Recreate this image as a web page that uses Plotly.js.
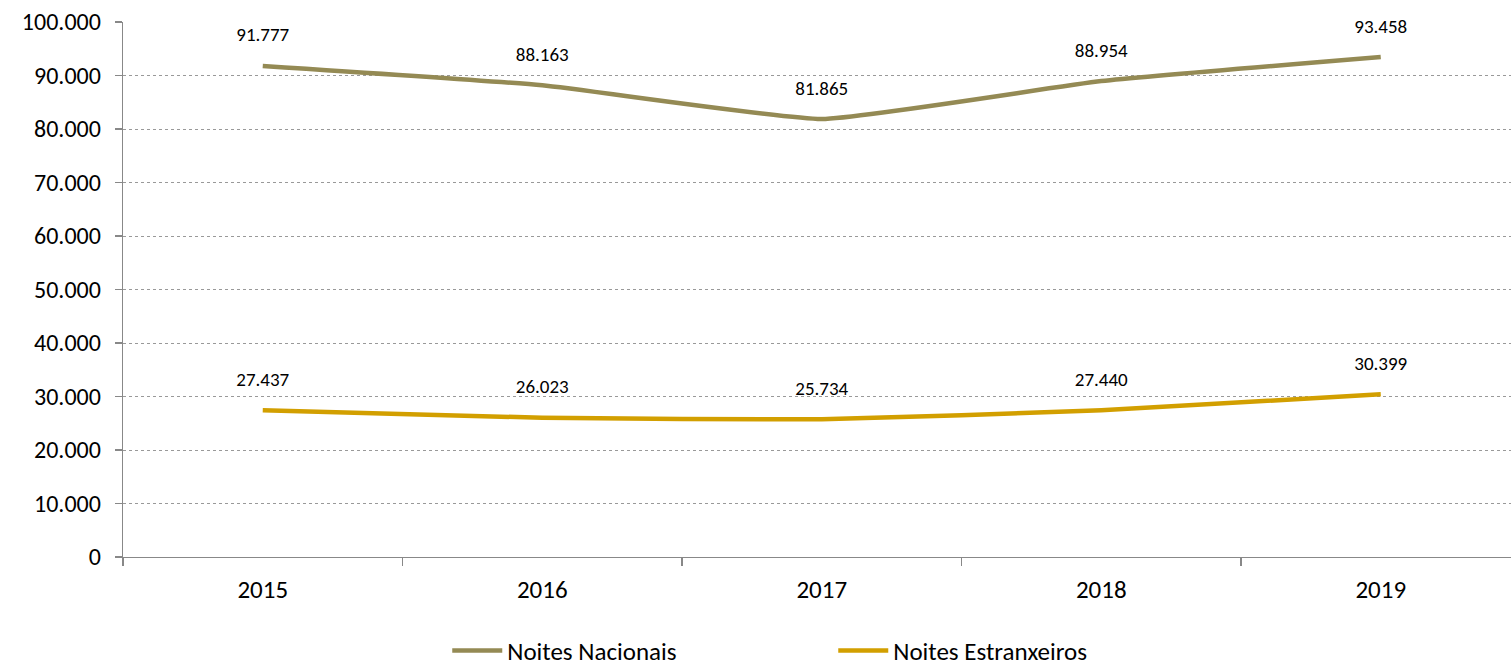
<!DOCTYPE html>
<html>
<head>
<meta charset="utf-8">
<script src="https://cdn.plot.ly/plotly-3.0.1.min.js"></script>
<style>html,body{margin:0;padding:0;background:#fff;}#chart{width:1511px;height:668px;}</style>
</head>
<body>
<div id="chart"></div>
<script>
const years = ['2015', '2016', '2017', '2018', '2019'];
const nacionais = [91777, 88163, 81865, 88954, 93458];
const estranxeiros = [27437, 26023, 25734, 27440, 30399];
const seriesNames = ['Noites Nacionais', 'Noites Estranxeiros'];
const colors = ['#948A54', '#D29F00'];
const FONT = 'Carlito, Lato, sans-serif';

function fmt(v) { return v.toString().replace(/\B(?=(\d{3})+(?!\d))/g, '.'); }

const traces = [];
[nacionais, estranxeiros].forEach((vals, i) => {
  traces.push({
    x: years, y: vals, name: seriesNames[i], type: 'scatter', mode: 'lines',
    line: {color: colors[i], width: 4.5, shape: 'spline', smoothing: 0.4},
    hoverinfo: 'skip'
  });
});
[nacionais, estranxeiros].forEach((vals, i) => {
  traces.push({
    x: years, y: vals, type: 'scatter', mode: 'markers+text', showlegend: false,
    text: vals.map(fmt), textposition: 'top center',
    textfont: {family: FONT, size: 19, color: '#000'},
    marker: {size: 30, color: 'rgba(0,0,0,0)'},
    hoverinfo: 'skip', cliponaxis: false
  });
});

const layout = {
  width: 1511, height: 668,
  margin: {l: 123, r: 0, t: 22, b: 111},
  paper_bgcolor: '#fff', plot_bgcolor: '#fff',
  separators: ',.',
  font: {family: FONT, color: '#000'},
  showlegend: true,
  legend: {orientation: 'h', xref: 'container', yref: 'container', x: 0.296, xanchor: 'left',
    y: 0.026, yanchor: 'middle',
    font: {family: FONT, size: 25, color: '#000'}, itemwidth: 50,
    entrywidth: 321, entrywidthmode: 'pixels'},
  xaxis: {type: 'category', range: [-0.5, 4.466], tickson: 'boundaries',
    ticks: 'outside', ticklen: 8, tickcolor: '#888', tickwidth: 1.3,
    showline: true, linecolor: '#888', linewidth: 1.3, showgrid: false,
    ticklabelstandoff: 10,
    tickfont: {family: FONT, size: 25, color: '#000'}, zeroline: false},
  yaxis: {range: [0, 100000], dtick: 10000, tickformat: ',d',
    ticks: 'outside', ticklen: 7, tickcolor: '#888', tickwidth: 1.3,
    showline: true, linecolor: '#888', linewidth: 1.3,
    showgrid: true, gridcolor: '#999', griddash: 'dot', gridwidth: 1,
    ticklabelstandoff: 9,
    zeroline: false, tickfont: {family: FONT, size: 24, color: '#000'}}
};

Plotly.newPlot('chart', traces, layout, {displayModeBar: false, staticPlot: true});
</script>
</body>
</html>
